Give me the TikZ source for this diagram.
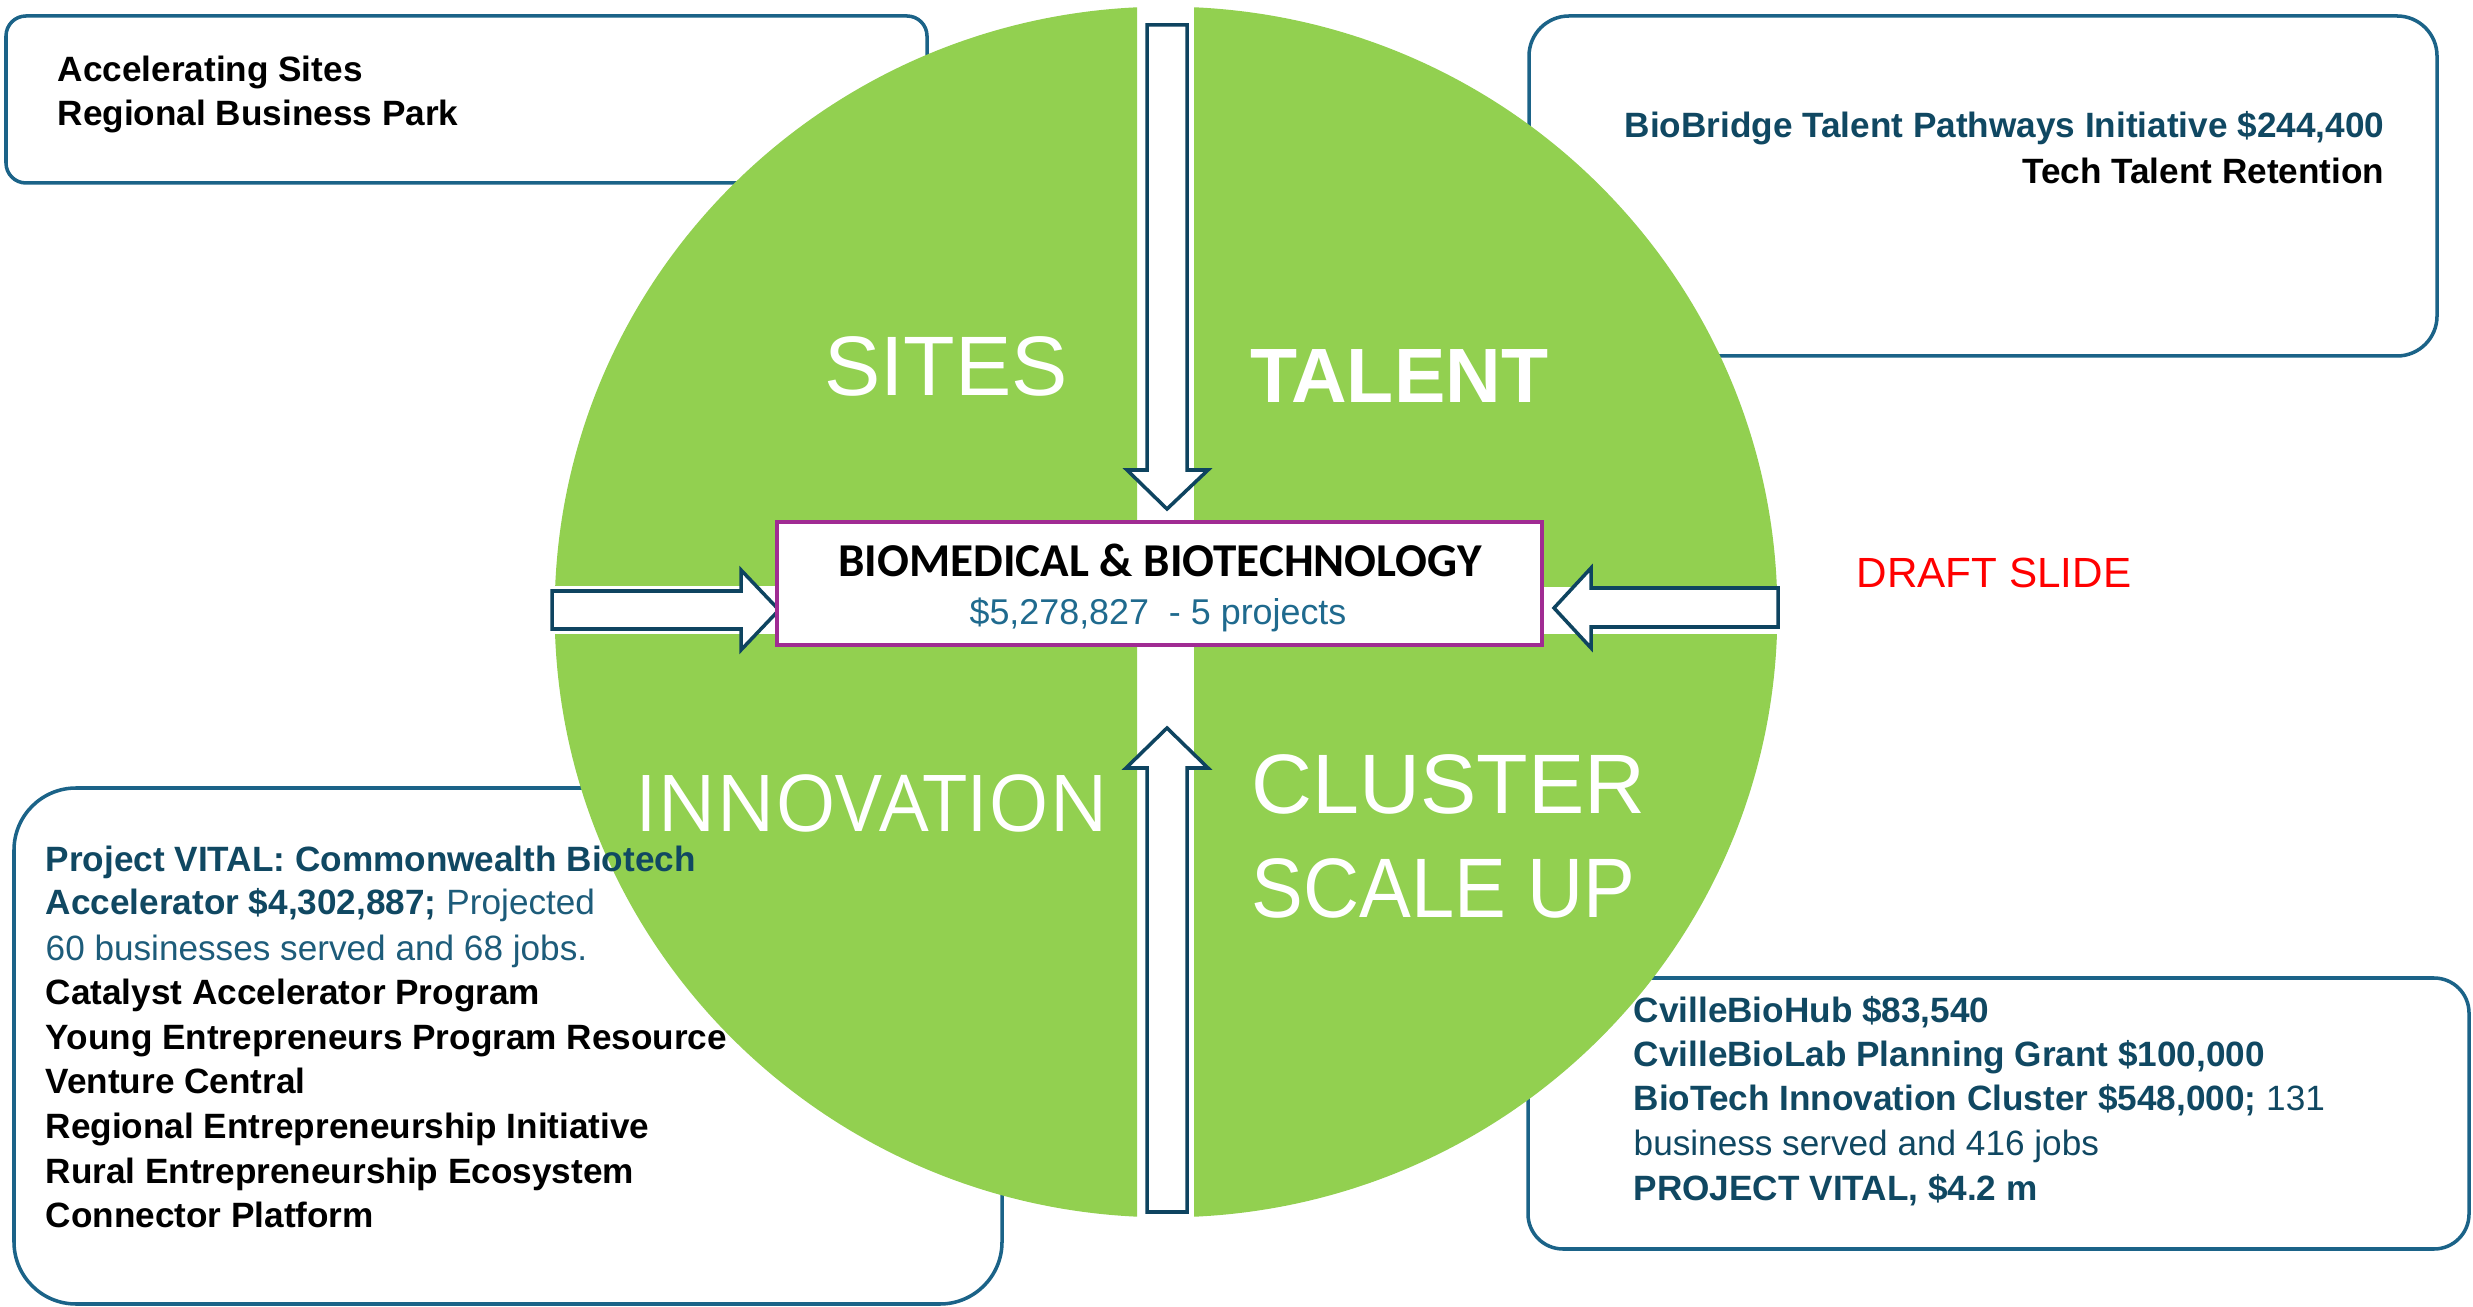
\documentclass[tikz,border=0pt]{standalone}
\usepackage{fontspec}
\usepackage{graphicx}
\setmainfont{Liberation Sans}
\newfontfamily\carlitofont{Carlito}
\newfontfamily\opensansfont{Open Sans}
\definecolor{leaf}{HTML}{92D050}
\definecolor{boxline}{HTML}{1B6388}
\definecolor{arrowline}{HTML}{0E4460}
\definecolor{hubline}{HTML}{A02B93}
\definecolor{deepteal}{HTML}{104862}
\definecolor{softteal}{HTML}{1D5C7A}
\definecolor{sumteal}{HTML}{1F6A8E}
\definecolor{draftred}{HTML}{FF0000}
\begin{document}
\begin{tikzpicture}[x=0.01cm,y=-0.01cm,
  infobox/.style={draw=boxline,line width=1pt},
  blockarrow/.style={draw=arrowline,fill=white,line width=1pt,line join=miter},
  ln/.style={anchor=base west,inner sep=0pt,font=\fontsize{10}{12}\selectfont},
  lnr/.style={anchor=base east,inner sep=0pt,font=\fontsize{10}{12}\selectfont},
  biglabel/.style={inner sep=0pt,text=white}]
\fill[white] (0,0) rectangle (2473,1307);
\useasboundingbox (0,0) rectangle (2473,1307);
% information boxes (borders behind the circle)
\draw[infobox,rounded corners=0.2cm] (6,16) rectangle (927,183);
\draw[infobox,rounded corners=0.4cm] (1529,16) rectangle (2437,356);
\draw[infobox,rounded corners=0.62cm] (14,788) rectangle (1002,1304);
\draw[infobox,rounded corners=0.35cm] (1528,978) rectangle (2469,1249);
% circle quadrants
\begin{scope}
  \clip (0,0) rectangle (1137,586);
  \fill[leaf] (1166,612) ellipse [x radius=6.11cm,y radius=6.05cm];
\end{scope}
\begin{scope}
  \clip (1194,0) rectangle (2473,587);
  \fill[leaf] (1166,612) ellipse [x radius=6.11cm,y radius=6.05cm];
\end{scope}
\begin{scope}
  \clip (0,635) rectangle (1137,1307);
  \fill[leaf] (1166,612) ellipse [x radius=6.11cm,y radius=6.05cm];
\end{scope}
\begin{scope}
  \clip (1194,635) rectangle (2473,1307);
  \fill[leaf] (1166,612) ellipse [x radius=6.11cm,y radius=6.05cm];
\end{scope}
% block arrows
\draw[blockarrow] (1147,25) -- (1187,25) -- (1187,470) -- (1208,470) -- (1167,509) -- (1127,470) -- (1147,470) -- cycle;
\draw[blockarrow] (1147,1212) -- (1187,1212) -- (1187,768) -- (1208,768) -- (1167,728) -- (1126,768) -- (1147,768) -- cycle;
\draw[blockarrow] (552,591) -- (741,591) -- (741,570) -- (779,610) -- (741,650) -- (741,629) -- (552,629) -- cycle;
\draw[blockarrow] (1778,588) -- (1591,588) -- (1591,568) -- (1554,608) -- (1591,648) -- (1591,627) -- (1778,627) -- cycle;
% hub
\node (hub) [draw=hubline,fill=white,line width=1.1pt,minimum width=7.65cm,minimum height=1.23cm,inner sep=0pt] at (1159.5,583.5) {};
\node (hubtitle) [anchor=base,inner sep=0pt,font=\carlitofont\bfseries\fontsize{13.4}{16}\selectfont] at (1160,577) {BIOMEDICAL \& BIOTECHNOLOGY};
\node (hubsum) [anchor=base,inner sep=0pt,text=sumteal,font=\fontsize{10.2}{12}\selectfont] at (1158,625) {\$5,278,827\ \ - 5 projects};
% quadrant labels
\node (sites) [biglabel,anchor=base,font=\fontsize{24}{28}\selectfont] at (946,396) {SITES};
\node (talent) [biglabel,anchor=base,font=\bfseries\fontsize{21.9}{26}\selectfont] at (1399,403) {TALENT};
\node (innov) [biglabel,anchor=base,font=\opensansfont\fontsize{22.3}{26}\selectfont] at (872,832) {INNOVATION};
\node (cluster) [biglabel,anchor=base west,font=\fontsize{24}{28}\selectfont] at (1251,814) {CLUSTER};
\node (scaleup) [biglabel,anchor=base west,font=\fontsize{24}{28}\selectfont] at (1251,917) {\scalebox{0.92}[1]{SCALE UP}};
\node (draft) [anchor=base,inner sep=0pt,text=draftred,font=\fontsize{12}{14}\selectfont] at (1994,588) {DRAFT SLIDE};
% top-left box text
\node (tl1) [ln,font=\bfseries\fontsize{10}{12}\selectfont] at (57,82) {Accelerating Sites};
\node (tl2) [ln,font=\bfseries\fontsize{10}{12}\selectfont] at (57,126) {Regional Business Park};
% top-right box text
\node (tr1) [lnr,text=deepteal,font=\bfseries\fontsize{10}{12}\selectfont] at (2385,138) {BioBridge Talent Pathways Initiative \$244,400};
\node (tr2) [lnr,font=\bfseries\fontsize{10}{12}\selectfont] at (2385,184) {Tech Talent Retention};
% bottom-left box text
\node (bl1) [ln,text=deepteal,font=\bfseries\fontsize{10}{12}\selectfont] at (45,871) {Project VITAL: Commonwealth Biotech};
\node (bl2) [ln,text=deepteal] at (45,915) {\textbf{Accelerator \$4,302,887;} \color{softteal}Projected};
\node (bl3) [ln,text=softteal] at (45,960) {60 businesses served and 68 jobs.};
\node (bl4) [ln,font=\bfseries\fontsize{10}{12}\selectfont] at (45,1004) {Catalyst Accelerator Program};
\node (bl5) [ln,font=\bfseries\fontsize{10}{12}\selectfont] at (45,1049) {Young Entrepreneurs Program Resource};
\node (bl6) [ln,font=\bfseries\fontsize{10}{12}\selectfont] at (45,1093) {Venture Central};
\node (bl7) [ln,font=\bfseries\fontsize{10}{12}\selectfont] at (45,1138) {Regional Entrepreneurship Initiative};
\node (bl8) [ln,font=\bfseries\fontsize{10}{12}\selectfont] at (45,1183) {Rural Entrepreneurship Ecosystem};
\node (bl9) [ln,font=\bfseries\fontsize{10}{12}\selectfont] at (45,1227) {Connector Platform};
% bottom-right box text
\node (br1) [ln,text=deepteal,font=\bfseries\fontsize{10}{12}\selectfont] at (1633,1022) {CvilleBioHub \$83,540};
\node (br2) [ln,text=deepteal,font=\bfseries\fontsize{10}{12}\selectfont] at (1633,1066) {CvilleBioLab Planning Grant \$100,000};
\node (br3) [ln,text=deepteal] at (1633,1110) {\textbf{BioTech Innovation Cluster \$548,000;} 131};
\node (br4) [ln,text=deepteal] at (1633,1155) {business served and 416 jobs};
\node (br5) [ln,text=deepteal,font=\bfseries\fontsize{10}{12}\selectfont] at (1633,1200) {PROJECT VITAL, \$4.2 m};
\end{tikzpicture}
\end{document}
